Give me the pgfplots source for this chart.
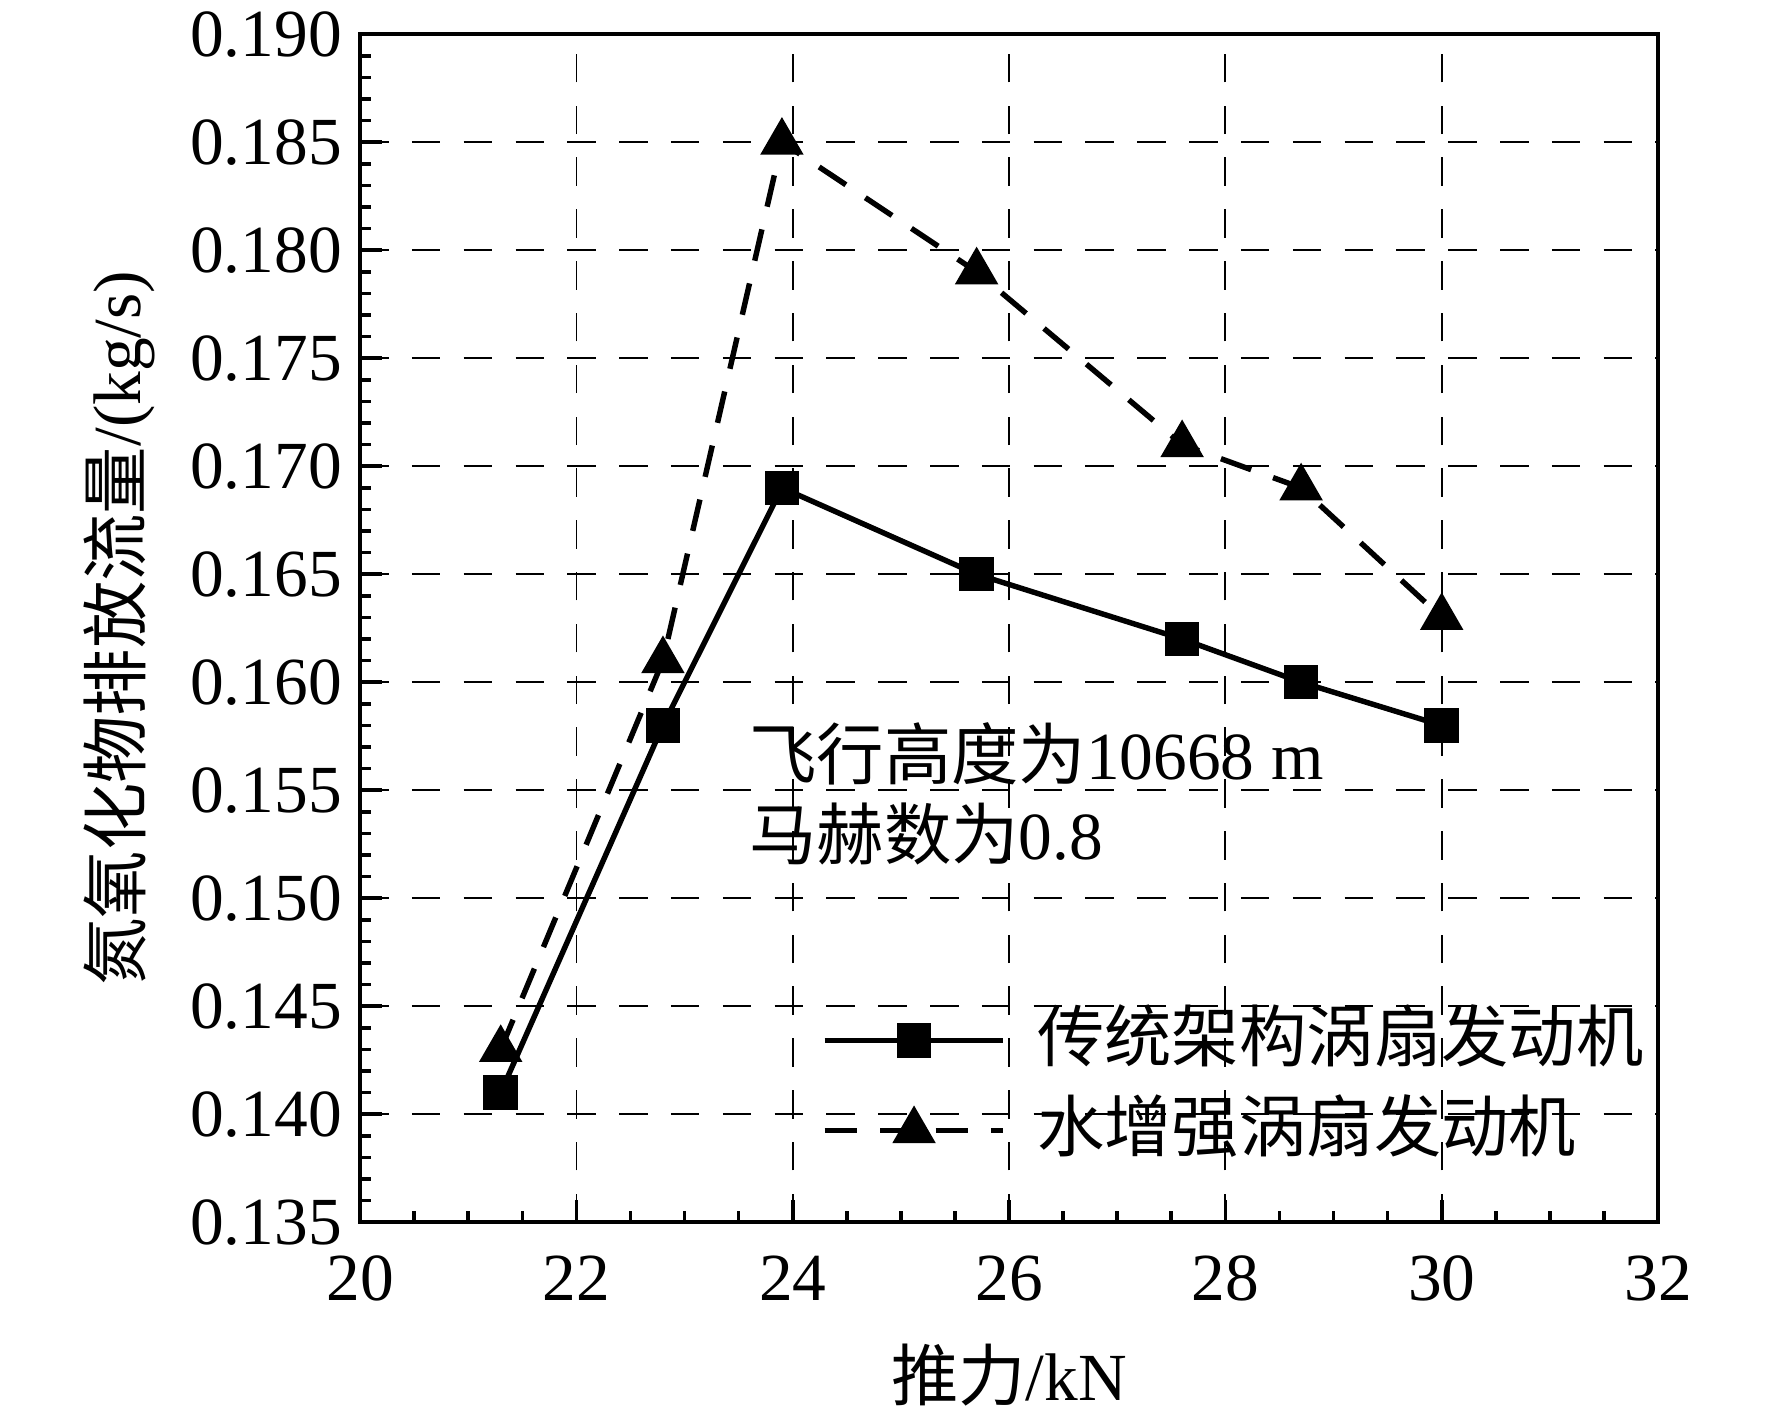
\documentclass[border=0pt]{standalone}
\usepackage{fontspec}
\setmainfont{Liberation Serif}
\newfontfamily\cjk{Noto Sans CJK SC}
\usepackage{pgfplots}
\pgfplotsset{compat=1.18}
\pgfdeclarelayer{boxlayer}
\pgfplotsset{layers/mylayers/.define layer set={axis background,axis grid,boxlayer,axis ticks,axis lines,axis tick labels,pre main,main,axis descriptions,axis foreground}{}}
\begin{document}
\begin{tikzpicture}[font=\fontsize{13}{15.6}\selectfont]
\begin{axis}[
 set layers=mylayers,
 scale only axis, width=250.5pt, height=229.3pt,
 xmin=20, xmax=32, ymin=0.135, ymax=0.190,
 xtick={20,22,24,26,28,30,32},
 ytick={0.135,0.14,0.145,0.15,0.155,0.16,0.165,0.17,0.175,0.18,0.185,0.19},
 minor x tick num=3, minor y tick num=4,
 tick align=inside, xtick pos=bottom, ytick pos=left,
 major tick length=4.3pt, minor tick length=2.1pt,
 tick style={black, line width=0.7pt},
 axis line style={line width=0.8pt},
 grid=major,
 major grid style={line width=0.35pt, dash pattern=on 5.5pt off 4.5pt, black},
 scaled y ticks=false,
 y tick label style={/pgf/number format/.cd, fixed, fixed zerofill, precision=3, /tikz/.cd},
 /pgf/number format/assume math mode=true,
 xticklabel shift=3pt,
 xlabel={{\cjk 推力}/kN},
 ylabel={{\cjk 氮氧化物排放流量}/(kg/s)},
 xlabel style={at={(axis description cs:0.5,-0.1286)}, anchor=center},
 ylabel style={at={(axis description cs:-0.1852,0.5)}, anchor=center},
 legend style={at={(axis cs:24.27,0.14133)}, anchor=west,
   draw=none, fill=none, inner sep=0pt, outer sep=0pt,
   nodes={inner sep=0pt, text height=10.5pt, text depth=2.5pt},
   row sep=4.4pt,
   /tikz/every odd column/.style={column sep=6pt}},
 legend cell align=left,
 legend image code/.code={\draw[mark repeat=2,mark phase=2,#1] plot coordinates {(0pt,0pt) (17.25pt,0pt) (34.5pt,0pt)};},
]
\begin{pgfonlayer}{boxlayer}
\fill[white] (axis cs:24.03,0.135) rectangle (axis cs:32,0.14725);
\fill[white] (axis cs:23.52,0.1508) rectangle (axis cs:28.78,0.1589);
\end{pgfonlayer}
\node[anchor=base west, inner sep=0pt] at (axis cs:23.59,0.1555) {{\cjk 飞行高度为}10668 m};
\node[anchor=base west, inner sep=0pt] at (axis cs:23.59,0.1518) {{\cjk 马赫数为}0.8};
\addplot[black, line width=1.05pt, mark=square*, mark size=2.8pt] coordinates {(21.3,0.141) (22.8,0.158) (23.9,0.169) (25.7,0.165) (27.6,0.162) (28.7,0.160) (30.0,0.158)};
\addlegendentry{{\cjk 传统架构涡扇发动机}}
\addplot[black, line width=1.05pt, dash pattern=on 6.2pt off 4.5pt, mark=triangle*, mark size=3.8pt, mark options={solid}] coordinates {(21.3,0.143) (22.8,0.161) (23.9,0.185) (25.7,0.179) (27.6,0.171) (28.7,0.169) (30.0,0.163)};
\addlegendentry{{\cjk 水增强涡扇发动机}}
\coordinate (bl) at (rel axis cs:0,0);
\coordinate (tr) at (rel axis cs:1,1);
\end{axis}
\pgfresetboundingbox
\path (bl) ++(-69.5pt,-38.4pt) rectangle ([shift={(22pt,6.6pt)}]tr);
\end{tikzpicture}
\end{document}
